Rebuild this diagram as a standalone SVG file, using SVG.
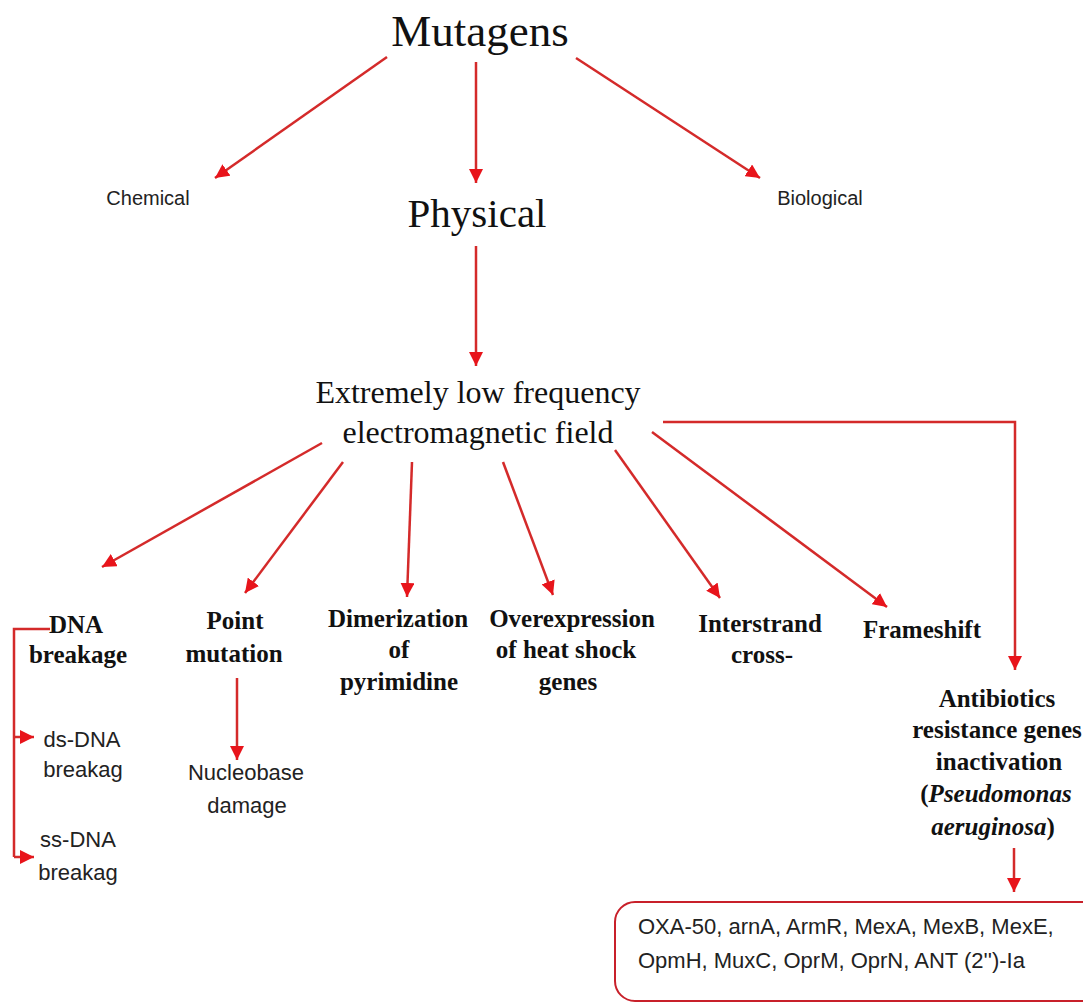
<svg xmlns="http://www.w3.org/2000/svg" width="1083" height="1004" viewBox="0 0 1083 1004">
<defs>
<style>
.bg{fill:#ffffff}
.ser{font-family:"Liberation Serif","Times New Roman",serif;fill:#111;text-anchor:middle}
.bold{font-family:"Liberation Serif","Times New Roman",serif;font-weight:bold;font-size:25px;fill:#111;text-anchor:middle}
.sans{font-family:"Liberation Sans",Arial,sans-serif;fill:#222;text-anchor:middle}
.cal{font-family:"Liberation Sans",Arial,sans-serif;font-size:22px;fill:#222;text-anchor:middle}
.con{fill:none;stroke:#d42a2a;stroke-width:2.5}
.box{fill:#ffffff;stroke:#c8202a;stroke-width:2}
</style>
<marker id="ah" markerUnits="userSpaceOnUse" markerWidth="16" markerHeight="14" refX="14" refY="7" orient="auto">
<path d="M0,0 L14,7 L0,14 Z" fill="#e8141b"/>
</marker>
</defs>
<rect class="bg" x="0" y="0" width="1083" height="1004"/>

<g id="connectors">
<path class="con" d="M387,57 L215,178" marker-end="url(#ah)"/>
<path class="con" d="M476,62 L476,183" marker-end="url(#ah)"/>
<path class="con" d="M576,58 L760,178" marker-end="url(#ah)"/>
<path class="con" d="M476,246 L476,366" marker-end="url(#ah)"/>
<path class="con" d="M322,443 L102,567" marker-end="url(#ah)"/>
<path class="con" d="M343,462 L245,593" marker-end="url(#ah)"/>
<path class="con" d="M412,462 L407,597" marker-end="url(#ah)"/>
<path class="con" d="M503,462 L553,595" marker-end="url(#ah)"/>
<path class="con" d="M615,450 L720,598" marker-end="url(#ah)"/>
<path class="con" d="M652,432 L887,607" marker-end="url(#ah)"/>
<path class="con" d="M663,422 L1015,422 L1015,670" marker-end="url(#ah)"/>
<path class="con" d="M50,629 L14,629 L14,857"/>
<path class="con" d="M14,737 L34,737" marker-end="url(#ah)"/>
<path class="con" d="M14,857 L34,857" marker-end="url(#ah)"/>
<path class="con" d="M237,678 L237,760" marker-end="url(#ah)"/>
<path class="con" d="M1014,848 L1014,892" marker-end="url(#ah)"/>
</g>

<g id="mutagens"><text class="ser" x="480" y="46" font-size="45">Mutagens</text></g>
<g id="chemical"><text class="sans" x="148" y="205" font-size="20">Chemical</text></g>
<g id="physical"><text class="ser" x="477" y="227" font-size="41">Physical</text></g>
<g id="biological"><text class="sans" x="820" y="205" font-size="20">Biological</text></g>
<g id="emf">
<text class="ser" x="478" y="403" font-size="32">Extremely low frequency</text>
<text class="ser" x="478" y="443" font-size="32">electromagnetic field</text>
</g>
<g id="dna-breakage">
<text class="bold" x="76" y="633">DNA</text>
<text class="bold" x="78" y="663">breakage</text>
</g>
<g id="ds-dna">
<text class="cal" x="82" y="747">ds-DNA</text>
<text class="cal" x="83" y="777">breakag</text>
</g>
<g id="ss-dna">
<text class="cal" x="78" y="847">ss-DNA</text>
<text class="cal" x="78" y="880">breakag</text>
</g>
<g id="point-mutation">
<text class="bold" x="235" y="629">Point</text>
<text class="bold" x="234" y="662">mutation</text>
</g>
<g id="nucleobase">
<text class="cal" x="246" y="780">Nucleobase</text>
<text class="cal" x="247" y="813">damage</text>
</g>
<g id="dimerization">
<text class="bold" x="398" y="627">Dimerization</text>
<text class="bold" x="399" y="658">of</text>
<text class="bold" x="399" y="690">pyrimidine</text>
</g>
<g id="overexpression">
<text class="bold" x="572" y="627">Overexpression</text>
<text class="bold" x="566" y="658">of heat shock</text>
<text class="bold" x="568" y="690">genes</text>
</g>
<g id="interstrand">
<text class="bold" x="760" y="632">Interstrand</text>
<text class="bold" x="762" y="663">cross-</text>
</g>
<g id="frameshift"><text class="bold" x="922" y="638">Frameshift</text></g>
<g id="antibiotics">
<text class="bold" x="997" y="707">Antibiotics</text>
<text class="bold" x="997" y="738">resistance genes</text>
<text class="bold" x="999" y="770">inactivation</text>
<text class="bold" x="996" y="802">(<tspan font-style="italic">Pseudomonas</tspan></text>
<text class="bold" x="993" y="835"><tspan font-style="italic">aeruginosa</tspan>)</text>
</g>
<g id="genes-box">
<rect class="box" x="615" y="902" width="490" height="99" rx="20" ry="20"/>
<text class="cal" x="638" y="934" style="text-anchor:start">OXA-50, arnA, ArmR, MexA, MexB, MexE,</text>
<text class="cal" x="638" y="968" style="text-anchor:start">OpmH, MuxC, OprM, OprN, ANT (2'')-Ia</text>
</g>
</svg>
